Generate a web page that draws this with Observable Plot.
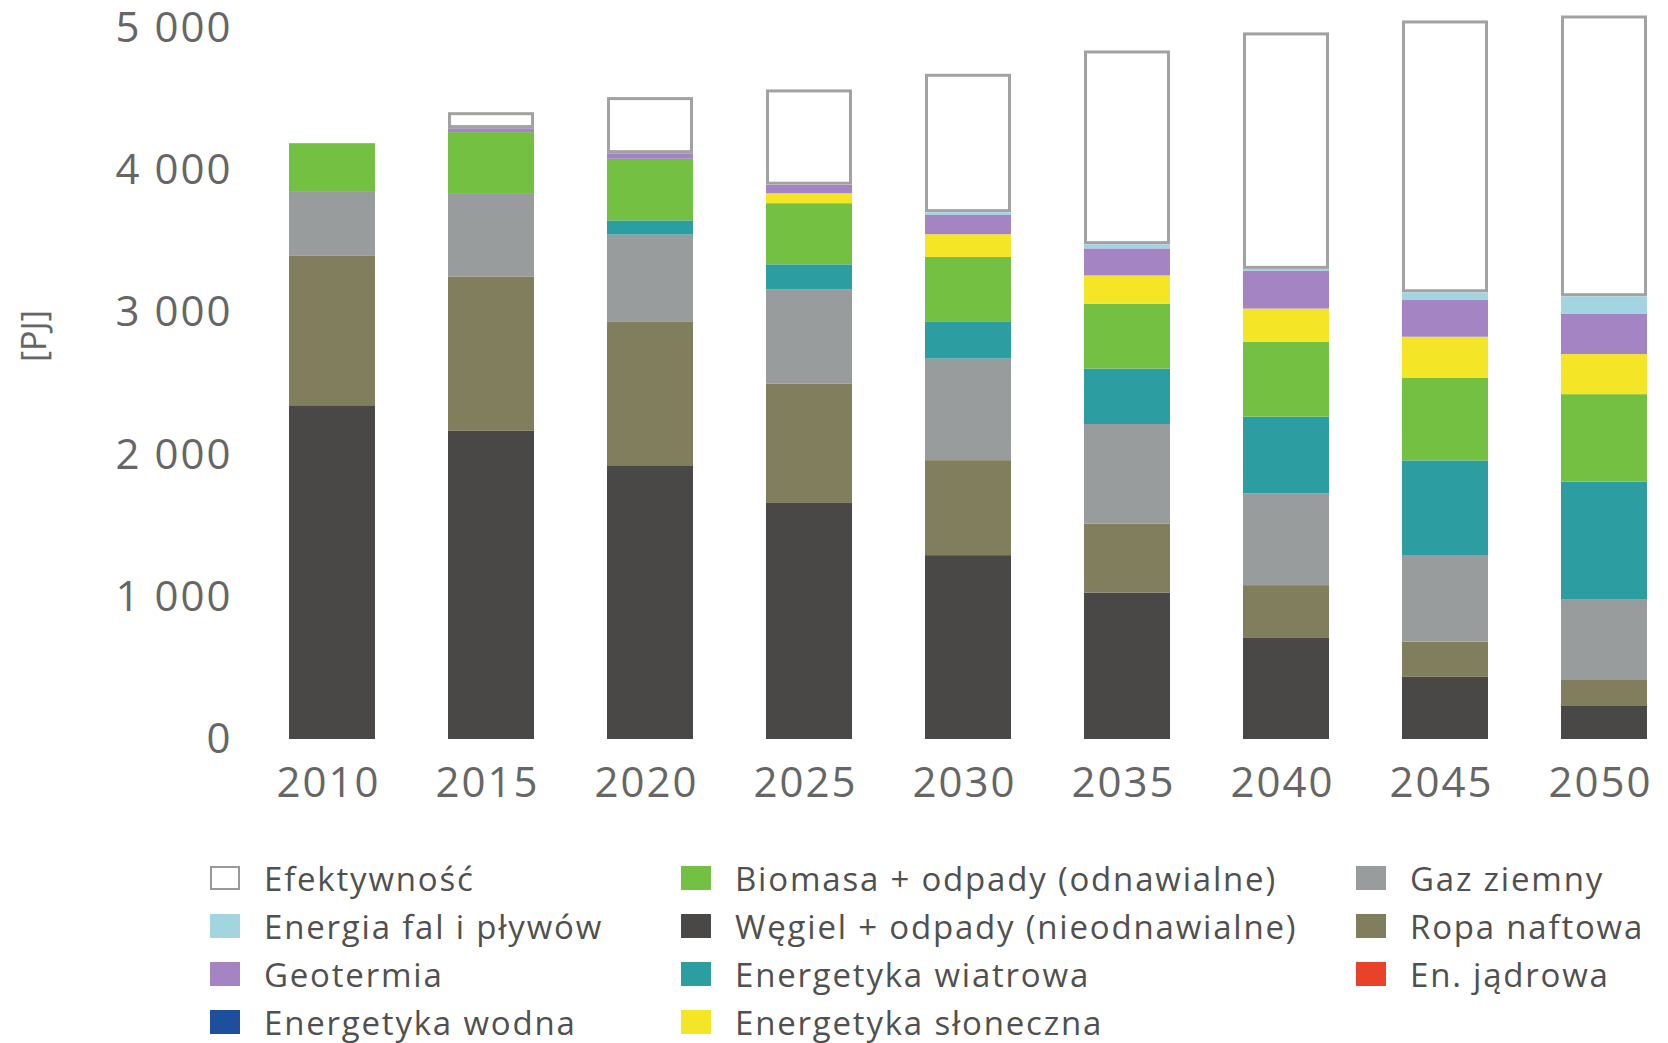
<!DOCTYPE html>
<html lang="pl">
<head>
<meta charset="utf-8">
<script src="https://cdn.jsdelivr.net/npm/d3@7"></script>
<script src="https://cdn.jsdelivr.net/npm/@observablehq/plot@0.6"></script>
<style>
  html, body { margin: 0; padding: 0; background: #fff; }
  body { width: 1668px; height: 1043px; overflow: hidden; font-family: "Open Sans", sans-serif; }
  #chart svg { display: block; }
  #chart svg g[aria-label="x-axis tick label"] text,
  #chart svg g[aria-label="y-axis tick label"] text { letter-spacing: 2px; }
  #legend { position: relative; height: 200px; }
  .item { position: absolute; display: flex; align-items: center; color: #505050; font-size: 33px; letter-spacing: 1.8px; white-space: nowrap; height: 40px; }
  .sw { width: 30px; height: 24px; margin-right: 24px; box-sizing: border-box; flex: none; }
</style>
</head>
<body>
<div id="chart"></div>
<div id="legend"></div>
<script>
// ---- data (PJ) ----
const years = ["2010", "2015", "2020", "2025", "2030", "2035", "2040", "2045", "2050"];

const wegiel      = [2347, 2167, 1925, 1660, 1293, 1030, 715, 437, 237];
const ropa        = [1054, 1086, 1008, 838, 668, 485, 367, 247, 178];
const gaz         = [452, 586, 614, 665, 714, 700, 645, 610, 565];
const jadrowa     = [0, 0, 0, 0, 0, 0, 0, 0, 0];
const wodna       = [0, 0, 0, 0, 0, 0, 0, 0, 0];
const wiatrowa    = [0, 0, 100, 175, 258, 390, 540, 665, 830];
const biomasa     = [337, 429, 433, 430, 457, 455, 527, 580, 615];
const sloneczna   = [0, 0, 0, 70, 160, 200, 233, 290, 282];
const geotermia   = [0, 28, 40, 60, 135, 190, 264, 258, 282];
const fale        = [0, 0, 0, 0, 20, 30, 15, 55, 125];
const efektywnosc = [0, 112, 394, 670, 973, 1362, 1663, 1911, 1974];

// stacking order, bottom to top
const seriesNames = [
  "Węgiel + odpady (nieodnawialne)", "Ropa naftowa", "Gaz ziemny", "En. jądrowa",
  "Energetyka wodna", "Energetyka wiatrowa", "Biomasa + odpady (odnawialne)",
  "Energetyka słoneczna", "Geotermia", "Energia fal i pływów", "Efektywność"
];
const seriesValues = [wegiel, ropa, gaz, jadrowa, wodna, wiatrowa, biomasa, sloneczna, geotermia, fale, efektywnosc];
const seriesColors = [
  "#4a4846", "#817e5e", "#989c9c", "#e8432a",
  "#1d4f9c", "#2c9ea2", "#74c043",
  "#f4e526", "#a584c4", "#a2d5e0", "#ffffff"
];

// legend layout (column-major)
const legendColumns = [
  ["Efektywność", "Energia fal i pływów", "Geotermia", "Energetyka wodna"],
  ["Biomasa + odpady (odnawialne)", "Węgiel + odpady (nieodnawialne)", "Energetyka wiatrowa", "Energetyka słoneczna"],
  ["Gaz ziemny", "Ropa naftowa", "En. jądrowa"]
];
const yTicks = [0, 1000, 2000, 3000, 4000, 5000];

// ---- build stacked rows ----
const rows = [];
years.forEach((year, i) => {
  let acc = 0;
  seriesNames.forEach((name, s) => {
    const v = seriesValues[s][i];
    rows.push({year, source: name, y1: acc, y2: acc + v});
    acc += v;
  });
});
const effRows = rows.filter(d => d.source === "Efektywność" && d.y2 > d.y1);

const fmt = d => d3.format(",")(d).replace(/,/g, " ");

const chart = Plot.plot({
  width: 1668,
  height: 840,
  marginTop: 28,
  marginBottom: 101,
  marginLeft: 269,
  marginRight: 1,
  style: {fontFamily: "Open Sans, sans-serif", background: "white", overflow: "visible"},
  x: {domain: years, paddingInner: 0.46, paddingOuter: 0.1, label: null},
  y: {domain: [0, 5000], label: null},
  color: {domain: seriesNames, range: seriesColors},
  marks: [
    Plot.barY(rows, {x: "year", y1: "y1", y2: "y2", fill: "source", insetTop: 0, insetBottom: 0}),
    Plot.barY(effRows, {x: "year", y1: "y1", y2: "y2", fill: "white", stroke: "#a2a2a2", strokeWidth: 3,
      insetLeft: 1.5, insetRight: 1.5, insetTop: 1.5, insetBottom: 1.5}),
    Plot.axisX({tickSize: 0, tickPadding: 28, fontSize: 42, fill: "#666", label: null, dx: -4}),
    Plot.axisY({ticks: yTicks, tickFormat: fmt, tickSize: 0, tickPadding: 37, fontSize: 42, fill: "#666", label: null}),
    Plot.text(["[PJ]"], {frameAnchor: "left", rotate: -90, dx: -234, dy: -22, fontSize: 34, fill: "#666"})
  ]
});
document.getElementById("chart").appendChild(chart);

// ---- legend ----
const colorOf = name => seriesColors[seriesNames.indexOf(name)];
const colX = [210, 681, 1356];
const legend = document.getElementById("legend");
legendColumns.forEach((col, c) => {
  col.forEach((name, r) => {
    const item = document.createElement("div");
    item.className = "item";
    item.style.left = colX[c] + "px";
    item.style.top = (18 + r * 48) + "px";
    const sw = document.createElement("span");
    sw.className = "sw";
    sw.style.background = colorOf(name);
    if (name === "Efektywność") sw.style.border = "2px solid #999";
    const t = document.createElement("span");
    t.textContent = name;
    item.appendChild(sw);
    item.appendChild(t);
    legend.appendChild(item);
  });
});
</script>
</body>
</html>
